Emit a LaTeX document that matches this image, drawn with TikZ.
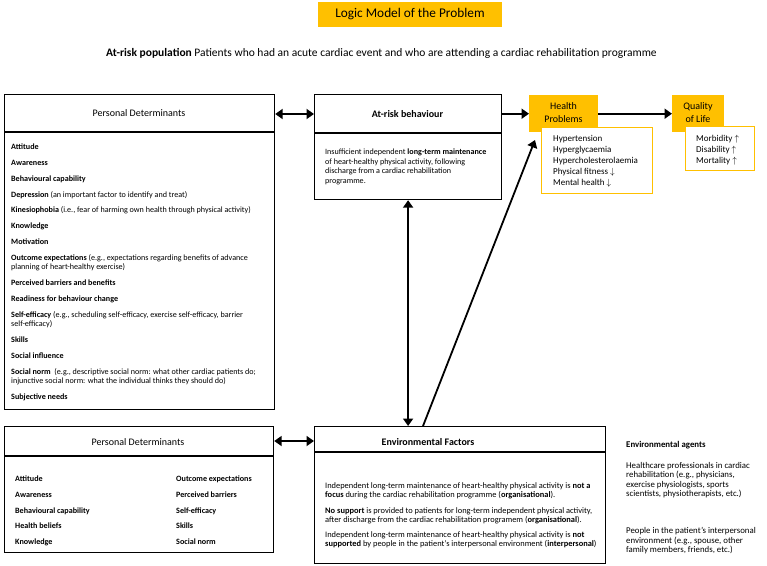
\documentclass[tikz,border=0pt]{standalone}
\usepackage{fontspec}
\setmainfont{Carlito}
\usetikzlibrary{arrows.meta}
\definecolor{gold}{HTML}{FFC000}
\begin{document}
\begin{tikzpicture}[x=1pt,y=-1pt,
  box/.style={draw=black, line width=1.2pt, inner sep=0pt, anchor=north west},
  ybox/.style={fill=gold, inner sep=0pt, anchor=north west},
  obox/.style={draw=gold, fill=white, line width=1.2pt, inner sep=0pt, anchor=north west},
  hdr/.style={font=\fontsize{10}{13}\selectfont, align=center, inner sep=0pt},
  bodytxt/.style={font=\fontsize{8.1}{9.5}\selectfont, align=left, inner sep=0pt, anchor=north west},
  listtxt/.style={font=\fontsize{9}{11}\selectfont, align=left, inner sep=0pt, anchor=north west},
  dblarr/.style={line width=1.8pt, {Triangle[length=7.5pt,width=10pt]}-{Triangle[length=7.5pt,width=10pt]}},
  onearr/.style={line width=1.8pt, -{Triangle[length=7.5pt,width=10pt]}},
]
\useasboundingbox (0,0) rectangle (767,565);

% title
\node[fill=gold, minimum width=184pt, minimum height=25pt, inner sep=0pt,
      font=\fontsize{13.3}{15}\selectfont] (title) at (410,14.5) {Logic Model of the Problem};
\node[font=\fontsize{11.5}{13}\selectfont, anchor=base west, inner sep=0pt] (pop) at (106,56.5)
  {\textbf{At-risk population} Patients who had an acute cardiac event and who are attending a cardiac rehabilitation programme};

% top personal determinants
\node[box, minimum width=270pt, minimum height=315pt] (tpd) at (4,94) {};
\draw[line width=1.2pt] ([yshift=-38pt]tpd.north west) -- ([yshift=-38pt]tpd.north east);
\node[hdr] (tpdh) at (139,113) {Personal Determinants};
\node[bodytxt] (tpdb) at (11,142.4) {\rule{0pt}{7pt}\textbf{Attitude}\\[6.3pt]
\textbf{Awareness}\\[6.3pt]
\textbf{Behavioural capability}\\[6.3pt]
\textbf{Depression} (an important factor to identify and treat)\\[6.3pt]
\textbf{Kinesiophobia} (i.e., fear of harming own health through physical activity)\\[6.3pt]
\textbf{Knowledge}\\[6.3pt]
\textbf{Motivation}\\[6.3pt]
\textbf{Outcome expectations} (e.g., expectations regarding benefits of advance\\
planning of heart-healthy exercise)\\[6.3pt]
\textbf{Perceived barriers and benefits}\\[6.3pt]
\textbf{Readiness for behaviour change}\\[6.3pt]
\textbf{Self-efficacy} (e.g., scheduling self-efficacy, exercise self-efficacy, barrier\\
self-efficacy)\\[6.3pt]
\textbf{Skills}\\[6.3pt]
\textbf{Social influence}\\[6.3pt]
\textbf{Social norm}\ \ (e.g., descriptive social norm: what other cardiac patients do;\\
injunctive social norm: what the individual thinks they should do)\\[6.3pt]
\textbf{Subjective needs}};

% at-risk behaviour
\node[box, minimum width=187pt, minimum height=105pt] (atr) at (314,94) {};
\draw[line width=1.2pt] ([yshift=-39pt]atr.north west) -- ([yshift=-39pt]atr.north east);
\node[hdr, font=\bfseries\fontsize{10}{13}\selectfont] (atrh) at (407.5,114) {At-risk behaviour};
\node[bodytxt, font=\fontsize{8.1}{9.6}\selectfont] (atrb) at (325,147.4) {\rule{0pt}{7pt}Insufficient independent \textbf{long-term maintenance}\\
of heart-healthy physical activity, following\\
discharge from a cardiac rehabilitation\\
programme.};

% health problems
\node[ybox, minimum width=69pt, minimum height=37pt] (hpy) at (529,95) {};
\node[hdr] (hph) at (563.5,112.5) {Health\\Problems};
\node[obox, minimum width=111pt, minimum height=66pt] (hpl) at (541,127) {};
\node[listtxt] (hplt) at (553,133.3) {\rule{0pt}{7.65pt}Hypertension\\
Hyperglycaemia\\
Hypercholesterolaemia\\
Physical fitness $\downarrow$\\
Mental health $\downarrow$};

% quality of life
\node[ybox, minimum width=52pt, minimum height=37pt] (qly) at (672,95) {};
\node[hdr] (qlh) at (698,112.5) {Quality\\of Life};
\node[obox, minimum width=69pt, minimum height=44pt] (qll) at (685,126) {};
\node[listtxt] (qllt) at (696,133.3) {\rule{0pt}{7.65pt}Morbidity $\uparrow$\\
Disability $\uparrow$\\
Mortality $\uparrow$};

% bottom personal determinants
\node[box, minimum width=269pt, minimum height=126pt] (bpd) at (4,426) {};
\draw[line width=1.2pt] ([yshift=-30pt]bpd.north west) -- ([yshift=-30pt]bpd.north east);
\node[hdr] (bpdh) at (138,442) {Personal Determinants};
\node[bodytxt] (bpdl) at (15,474.4) {\rule{0pt}{7pt}\textbf{Attitude}\\[6.2pt]
\textbf{Awareness}\\[6.2pt]
\textbf{Behavioural capability}\\[6.2pt]
\textbf{Health beliefs}\\[6.2pt]
\textbf{Knowledge}};
\node[bodytxt] (bpdr) at (176,474.4) {\rule{0pt}{7pt}\textbf{Outcome expectations}\\[6.2pt]
\textbf{Perceived barriers}\\[6.2pt]
\textbf{Self-efficacy}\\[6.2pt]
\textbf{Skills}\\[6.2pt]
\textbf{Social norm}};

% environmental factors
\node[box, minimum width=291pt, minimum height=137pt] (env) at (314,426) {};
\draw[line width=1.2pt] ([yshift=-26pt]env.north west) -- ([yshift=-26pt]env.north east);
\node[hdr, font=\bfseries\fontsize{10}{13}\selectfont] (envh) at (428,442) {Environmental Factors};
\node[bodytxt, font=\fontsize{8.4}{9}\selectfont] (envb) at (325,481.3) {\rule{0pt}{7pt}Independent long-term maintenance of heart-healthy physical activity is \textbf{not a}\\
\textbf{focus} during the cardiac rehabilitation programme (\textbf{organisational}).\\[6.6pt]
\textbf{No support} is provided to patients for long-term independent physical activity,\\
after discharge from the cardiac rehabilitation programem (\textbf{organisational}).\\[6.6pt]
Independent long-term maintenance of heart-healthy physical activity is \textbf{not}\\
\textbf{supported} by people in the patient’s interpersonal environment (\textbf{interpersonal})};

% environmental agents
\node[font=\bfseries\fontsize{8.8}{9}\selectfont, anchor=base west, inner sep=0pt] (agh) at (626,447.5) {Environmental agents};
\node[bodytxt, font=\fontsize{8.8}{9.5}\selectfont] (ag1) at (626,460.4) {\rule{0pt}{7.5pt}Healthcare professionals in cardiac\\
rehabilitation (e.g., physicians,\\
exercise physiologists, sports\\
scientists, physiotherapists, etc.)};
\node[bodytxt, font=\fontsize{8.8}{9.5}\selectfont] (ag2) at (626,525.9) {\rule{0pt}{7.5pt}People in the patient’s interpersonal\\
environment (e.g., spouse, other\\
family members, friends, etc.)};

% connectors
\draw[dblarr] ([yshift=-20pt]tpd.north east) -- ([yshift=-20pt]atr.north west);
\draw[onearr] (atr.east |- hpy.west) -- (hpy.west);
\draw[onearr] (hpy.east) -- (qly.west);
\draw[dblarr] (atr.south) -- (atr.south |- env.north);
\draw[dblarr] ([yshift=-15pt]bpd.north east) -- ([yshift=-15pt]env.north west);
\coordinate (diagstart) at ([xshift=109pt]env.north west);
\coordinate (diagend) at ([xshift=-6pt,yshift=-13pt]hpl.north west);
\draw[onearr] (diagstart) -- (diagend);
\end{tikzpicture}
\end{document}
